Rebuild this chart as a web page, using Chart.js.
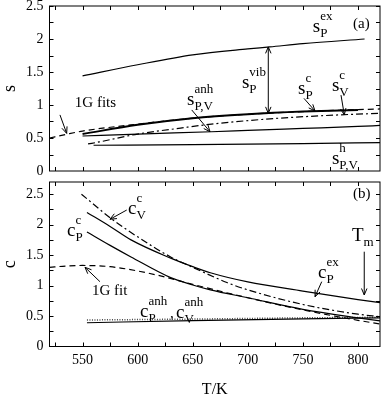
<!DOCTYPE html>
<html>
<head>
<meta charset="utf-8">
<script src="https://cdn.jsdelivr.net/npm/chart.js@4.4.0/dist/chart.umd.min.js"></script>
<style>
  body { margin: 0; background: #fff; width: 382px; height: 399px; overflow: hidden; position: relative; }
  canvas { position: absolute; left: 0; }
  #topChart { top: 0; }
  #botChart { top: 176px; }
</style>
</head>
<body>
<canvas id="topChart" width="382" height="176"></canvas>
<canvas id="botChart" width="382" height="223"></canvas>
<script>
// axis ticks
const xTickVals = [550, 600, 650, 700, 750, 800];
const xMinorVals = [525, 550, 575, 600, 625, 650, 675, 700, 725, 750, 775, 800];
const yTickVals = [0, 0.5, 1, 1.5, 2, 2.5];
const yMinorVals = [0.25, 0.5, 0.75, 1, 1.25, 1.5, 1.75, 2, 2.25, 2.5];

// panel (a): entropies
const sExT = [550, 600, 650, 700, 720, 750, 806];
const sExV = [1.44, 1.61, 1.76, 1.85, 1.88, 1.93, 2.0];
const sPcT = [550, 600, 650, 700, 750, 800];
const sPcV = [0.56, 0.70, 0.80, 0.86, 0.90, 0.925];
const sFitT = [520, 535, 550, 600, 650, 700, 750, 800, 820];
const sFitV = [0.50, 0.555, 0.605, 0.71, 0.80, 0.86, 0.90, 0.93, 0.94];
const sVcT = [555, 565, 600, 639, 667, 720, 770, 820];
const sVcV = [0.41, 0.44, 0.56, 0.65, 0.71, 0.79, 0.84, 0.875];
const sAnhT = [550, 600, 667, 700, 750, 800, 820];
const sAnhV = [0.53, 0.56, 0.595, 0.615, 0.645, 0.675, 0.69];
const sHT = [560, 650, 750, 820];
const sHV = [0.39, 0.40, 0.415, 0.43];

// panel (b): heat capacities
const cExT = [554, 575, 594, 630, 650, 666, 700, 750, 800, 820];
const cExV = [2.20, 1.97, 1.75, 1.45, 1.31, 1.21, 1.06, 0.91, 0.77, 0.72];
const cPcT = [554, 575, 594, 630, 650, 666, 700, 750, 800, 820];
const cPcV = [1.88, 1.66, 1.47, 1.13, 1.01, 0.93, 0.80, 0.61, 0.47, 0.42];
const cVcT = [549, 576, 600, 630, 650, 681, 700, 750, 800, 820];
const cVcV = [2.50, 2.10, 1.80, 1.47, 1.30, 1.05, 0.93, 0.69, 0.53, 0.49];
const cFitT = [520, 535, 550, 575, 600, 625, 650, 700, 750, 800, 820];
const cFitV = [1.30, 1.32, 1.33, 1.31, 1.24, 1.14, 1.02, 0.80, 0.60, 0.43, 0.37];
const cPanhT = [554, 650, 750, 820];
const cPanhV = [0.39, 0.425, 0.455, 0.47];
const cVanhT = [554, 650, 750, 820];
const cVanhV = [0.435, 0.45, 0.47, 0.48];

// annotation positions in data units
const topLabels = [
  { x: 759, y: 2.105, base: "s", sub: "P", sup: "ex" },
  { x: 694.7, y: 1.26, base: "s", sub: "P", sup: "vib" },
  { x: 745.6, y: 1.17, base: "s", sub: "P", sup: "c" },
  { x: 776.4, y: 1.21, base: "s", sub: "V", sup: "c" },
  { x: 644.8, y: 1.0, base: "s", sub: "P,V", sup: "anh" },
  { x: 776.4, y: 0.106, base: "s", sub: "P,V", sup: "h" },
  { x: 543, y: 0.97, text: "1G fits" },
  { x: 795.5, y: 2.17, text: "(a)" },
];
const topArrows = [
  { x1: 529.5, y1: 0.85, x2: 535.6, y2: 0.57 },
  { x1: 718.6, y1: 0.874, x2: 718.6, y2: 1.88, both: true },
  { x1: 751, y1: 1.10, x2: 761, y2: 0.91 },
  { x1: 784.6, y1: 1.15, x2: 787.6, y2: 0.85 },
  { x1: 649.1, y1: 0.925, x2: 665.7, y2: 0.595 },
];
const botLabels = [
  { x: 591.3, y: 2.175, base: "c", sub: "V", sup: "c" },
  { x: 535.9, y: 1.814, base: "c", sub: "P", sup: "c" },
  { x: 558.6, y: 0.845, text: "1G fit" },
  { x: 602.1, y: 0.484, base: "c", sub: "P", sup: "anh" },
  { x: 629.4, y: 0.47, text: "," },
  { x: 634.8, y: 0.47, base: "c", sub: "V", sup: "anh" },
  { x: 763.7, y: 1.124, base: "c", sub: "P", sup: "ex" },
  { x: 794.6, y: 1.731, base: "T", sub: "m" },
  { x: 795.5, y: 2.437, text: "(b)" },
];
const botArrows = [
  { x1: 590.1, y1: 2.24, x2: 574.9, y2: 2.088 },
  { x1: 565.8, y1: 1.064, x2: 552.2, y2: 1.30 },
  { x1: 767.1, y1: 1.064, x2: 761, y2: 0.817 },
  { x1: 805.7, y1: 1.556, x2: 805.7, y2: 0.846 },
];

const FONT = '"Liberation Serif", "Times New Roman", serif';

function pts(xs, ys) {
  return xs.map((x, i) => ({ x: x, y: ys[i] }));
}

function series(xs, ys, style) {
  return Object.assign({
    data: pts(xs, ys),
    borderColor: "#000",
    borderWidth: 1.2,
    pointRadius: 0,
    fill: false,
    cubicInterpolationMode: "monotone",
  }, style);
}

function arrowHead(ctx, x1, y1, x2, y2) {
  const a = Math.atan2(y2 - y1, x2 - x1);
  const len = 7, spread = 0.4;
  ctx.beginPath();
  ctx.moveTo(x2 - len * Math.cos(a - spread), y2 - len * Math.sin(a - spread));
  ctx.lineTo(x2, y2);
  ctx.lineTo(x2 - len * Math.cos(a + spread), y2 - len * Math.sin(a + spread));
  ctx.stroke();
}

const framePlugin = {
  id: "frame",
  afterDraw(chart, args, opts) {
    const ctx = chart.ctx;
    const a = chart.chartArea;
    const xs = chart.scales.x, ys = chart.scales.y;
    ctx.save();
    ctx.strokeStyle = "#000";
    ctx.fillStyle = "#000";
    ctx.lineWidth = 1;
    ctx.strokeRect(a.left, a.top, a.right - a.left, a.bottom - a.top);

    // inward ticks on all four sides
    ctx.beginPath();
    xMinorVals.forEach((v) => {
      const px = Math.round(xs.getPixelForValue(v)) + 0.5;
      ctx.moveTo(px, a.bottom); ctx.lineTo(px, a.bottom - 4);
      ctx.moveTo(px, a.top); ctx.lineTo(px, a.top + 4);
    });
    yMinorVals.forEach((v) => {
      const py = Math.round(ys.getPixelForValue(v)) + 0.5;
      ctx.moveTo(a.left, py); ctx.lineTo(a.left + 4, py);
      ctx.moveTo(a.right, py); ctx.lineTo(a.right - 4, py);
    });
    ctx.stroke();

    // arrows
    ctx.lineWidth = 1;
    opts.arrows.forEach((r) => {
      const x1 = xs.getPixelForValue(r.x1), y1 = ys.getPixelForValue(r.y1);
      const x2 = xs.getPixelForValue(r.x2), y2 = ys.getPixelForValue(r.y2);
      ctx.beginPath();
      ctx.moveTo(x1, y1); ctx.lineTo(x2, y2);
      ctx.stroke();
      arrowHead(ctx, x1, y1, x2, y2);
      if (r.both) arrowHead(ctx, x2, y2, x1, y1);
    });

    // labels
    ctx.textBaseline = "alphabetic";
    ctx.textAlign = "left";
    opts.labels.forEach((l) => {
      const x = xs.getPixelForValue(l.x), y = ys.getPixelForValue(l.y);
      if (l.text) {
        ctx.font = "15px " + FONT;
        ctx.fillText(l.text, x, y);
        return;
      }
      ctx.font = "19px " + FONT;
      ctx.fillText(l.base, x, y);
      const w = ctx.measureText(l.base).width;
      ctx.font = "13px " + FONT;
      if (l.sub) ctx.fillText(l.sub, x + w, y + 5);
      if (l.sup) ctx.fillText(l.sup, x + w, y - 12);
    });
    ctx.restore();
  },
};

function makeScales(yMax, yTitle, showX, xHeight) {
  return {
    x: {
      type: "linear",
      min: 520,
      max: 820,
      afterBuildTicks: (s) => { s.ticks = xTickVals.map((v) => ({ value: v })); },
      afterFit: (s) => {
        s.height = xHeight;
        s.paddingLeft = 0; s.paddingRight = 0;
      },
      grid: { display: false, drawTicks: false },
      border: { display: false },
      ticks: {
        display: showX,
        padding: 5,
        color: "#000",
        maxRotation: 0,
        font: { family: FONT, size: 14 },
        callback: (v) => String(v),
      },
      title: {
        display: showX,
        text: "T/K",
        color: "#000",
        padding: 0,
        font: { family: FONT, size: 16, lineHeight: 1.125 },
      },
    },
    y: {
      min: 0,
      max: yMax,
      afterBuildTicks: (s) => { s.ticks = yTickVals.map((v) => ({ value: v })); },
      afterFit: (s) => {
        s.width = 49.5;
        s.paddingTop = 0; s.paddingBottom = 0;
      },
      grid: { display: false, drawTicks: false },
      border: { display: false },
      ticks: {
        padding: 6,
        color: "#000",
        font: { family: FONT, size: 14 },
        callback: (v) => String(v),
      },
      title: {
        display: true,
        text: yTitle,
        color: "#000",
        padding: 0,
        font: { family: FONT, size: 18, lineHeight: 1.15 },
      },
    },
  };
}

const baseOptions = {
  responsive: false,
  animation: false,
  events: [],
  plugins: { legend: { display: false }, tooltip: { enabled: false } },
};

new Chart(document.getElementById("topChart"), {
  type: "line",
  data: {
    datasets: [
      series(sExT, sExV, {}),
      series(sFitT, sFitV, { borderDash: [6, 4] }),
      series(sPcT, sPcV, { borderWidth: 2 }),
      series(sVcT, sVcV, { borderDash: [7, 3, 2, 3] }),
      series(sAnhT, sAnhV, {}),
      series(sHT, sHV, {}),
    ],
  },
  options: Object.assign({}, baseOptions, {
    layout: { padding: { left: 0, right: 2, top: 6, bottom: 0 } },
    scales: makeScales(2.5, "s", false, 5),
    plugins: Object.assign({}, baseOptions.plugins, {
      frame: { labels: topLabels, arrows: topArrows },
    }),
  }),
  plugins: [framePlugin],
});

new Chart(document.getElementById("botChart"), {
  type: "line",
  data: {
    datasets: [
      series(cVcT, cVcV, { borderDash: [7, 3, 2, 3] }),
      series(cExT, cExV, {}),
      series(cPcT, cPcV, {}),
      series(cFitT, cFitV, { borderDash: [6, 4] }),
      series(cPanhT, cPanhV, {}),
      series(cVanhT, cVanhV, { borderDash: [1, 1.5], borderColor: "#444", borderWidth: 1.5 }),
    ],
  },
  options: Object.assign({}, baseOptions, {
    layout: { padding: { left: 0, right: 2, top: 6, bottom: 0 } },
    scales: makeScales(2.7, "c", true, 52.5),
    plugins: Object.assign({}, baseOptions.plugins, {
      frame: { labels: botLabels, arrows: botArrows },
    }),
  }),
  plugins: [framePlugin],
});
</script>
</body>
</html>
